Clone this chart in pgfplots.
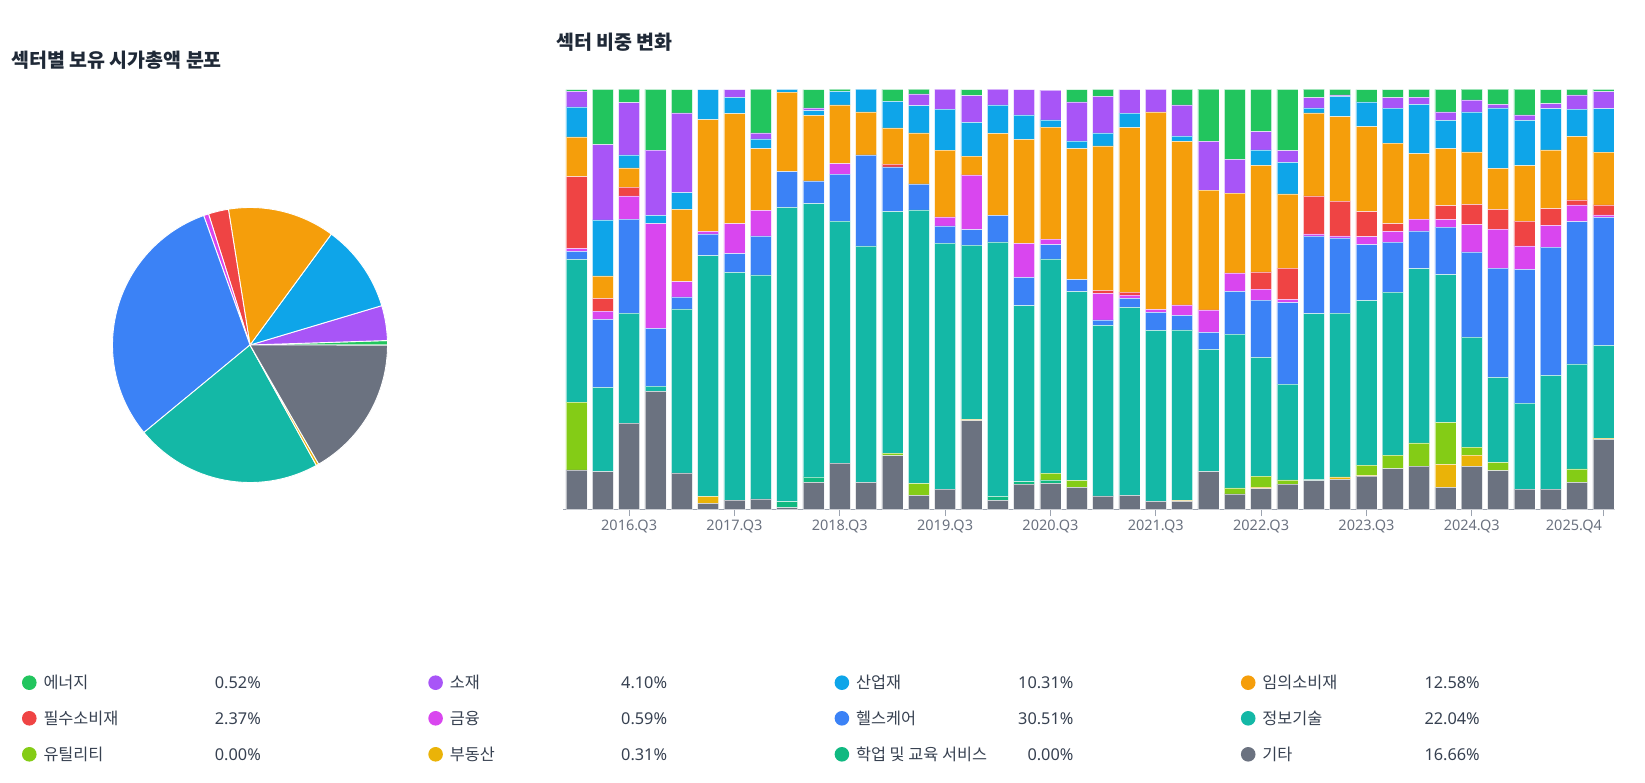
\documentclass[border=0pt]{standalone}
\usepackage{pgfplots}
\pgfplotsset{compat=1.18}
\usepackage{pgfplotstable}
\usepackage{fontspec}
\setmainfont{Noto Sans}
\newfontfamily\kr{Noto Sans CJK KR}

\definecolor{cEn}{HTML}{22C55E}
\definecolor{cMat}{HTML}{A855F7}
\definecolor{cInd}{HTML}{0EA5E9}
\definecolor{cDis}{HTML}{F59E0B}
\definecolor{cSta}{HTML}{EF4444}
\definecolor{cFin}{HTML}{D946EF}
\definecolor{cHc}{HTML}{3B82F6}
\definecolor{cIt}{HTML}{14B8A6}
\definecolor{cUtil}{HTML}{84CC16}
\definecolor{cRe}{HTML}{EAB308}
\definecolor{cEdu}{HTML}{10B981}
\definecolor{cEtc}{HTML}{6B7280}
\definecolor{cTitle}{HTML}{1F2937}
\definecolor{cText}{HTML}{374151}
\definecolor{cTick}{HTML}{6B7280}
\definecolor{cAxis}{HTML}{9CA3AF}

% sector weights per quarter (%), 2016.Q1 ... 2025.Q4
\pgfplotstableread{
i  etc   edu  re   util  it    hc    fin   sta   dis   ind   mat   en
0  9.4   0    0    16.1  34.0  1.9   0.7   17.1  9.5   7.1   3.7   0.4
1  9.0   0    0    0     20.0  16.2  2.0   3.0   5.4   13.3  17.9  13.2
2  20.5  0    0    0     26.2  22.4  5.5   2.1   4.6   3.1   12.4  3.3
3  28.1  0    0    0     1.2   13.8  24.9  0     0     2.0   15.5  14.5
4  8.7   0    0    0     39.0  2.9   3.6   0     17.2  4.0   19.0  5.5
5  1.4   0    1.7  0     57.3  5.2   0.6   0     26.6  7.1   0     0
6  2.2   0    0    0     54.2  4.5   7.1   0     26.2  3.9   1.8   0
7  2.5   0    0    0     53.3  9.3   6.1   0     14.7  2.3   1.4   10.5
8  0.4   1.4  0    0     70.1  8.5   0     0     18.9  0.7   0     0
9  6.4   1.3  0    0     65.1  5.4   0     0     15.6  1.1   0.7   4.3
10 11.0  0    0    0     57.6  11.2  2.5   0     14.0  3.2   0     0.6
11 6.4   0    0    0     56.3  21.7  0     0     10.2  5.5   0     0
12 12.8  0    0    0.6   57.5  10.6  0     0.7   8.6   6.3   0     2.9
13 3.3   0    0    2.9   65.1  6.2   0     0     12.1  6.5   2.8   1.2
14 4.8   0    0    0     58.6  4.1   2.1   0     15.9  9.8   4.8   0
15 21.1  0    0.3  0     41.5  3.7   13.0  0     4.5   8.0   6.4   1.4
16 2.1   1.0  0    0     60.6  6.3   0     0     19.5  6.8   3.8   0
17 6.0   0.6  0    0     41.9  6.7   8.1   0     24.8  5.8   6.0   0
18 6.2   0.8  0    1.6   51.0  3.4   1.3   0     26.7  1.7   7.1   0
19 5.2   0    0    1.7   44.9  2.9   0     0     31.2  1.8   9.3   2.9
20 3.2   0    0    0     40.6  1.3   6.3   0.7   34.4  3.1   8.7   1.7
21 3.3   0    0    0     44.8  2.1   0.8   0.7   39.2  3.4   5.6   0
22 1.9   0    0    0     40.7  4.3   0.7   0     47.0  0     5.4   0
23 1.9   0    0.2  0     40.6  3.5   2.5   0     38.9  1.3   7.4   3.7
24 9.0   0    0    0     29.1  4.0   5.4   0     28.5  0     11.6  12.5
25 3.7   0    0    1.4   36.6  10.2  4.4   0     19.0  0     8.0   16.7
26 4.9   0    0.4  2.6   28.3  13.6  2.6   4.1   25.4  3.7   4.3   10.1
27 6.0   0    0    1.0   22.8  19.4  0.8   7.4   17.7  7.5   2.8   14.6
28 6.8   0.3  0    0     39.5  18.5  0.5   9.0   19.8  1.2   2.4   2.1
29 7.1   0    0.6  0     39.0  17.9  0.5   8.3   20.1  4.8   0.4   1.3
30 7.9   0    0.2  2.4   39.2  13.3  1.9   6.0   20.2  5.9   0     2.9
31 9.7   0    0    3.2   38.8  11.9  2.6   1.8   19.2  8.3   2.5   1.9
32 10.3  0    0    5.5   41.5  9.0   2.8   0     15.6  11.7  1.7   1.9
33 5.2   0    5.5  10.0  35.2  11.3  1.8   3.3   13.6  6.7   2.0   5.4
34 10.2  0    2.7  1.9   26.2  20.3  6.5   4.8   12.5  9.5   2.9   2.6
35 9.2   0    0    2.0   20.2  26.0  9.3   4.7   9.8   14.4  0.8   3.7
36 4.8   0    0    0     20.5  31.8  5.6   5.9   13.2  10.8  1.3   6.2
37 4.8   0    0    0     27.1  30.5  5.2   4.0   14.0  9.8   1.2   3.3
38 6.4   0    0    3.2   25.0  33.9  4.0   1.2   15.1  6.5   3.4   1.3
39 16.66 0    0.31 0     22.04 30.51 0.59  2.37  12.58 10.31 4.10  0.52
}\bars

% pie: cumulative angles from the shares (%)
\def\R{137.5}
\pgfmathsetmacro\aA{0}
\pgfmathsetmacro\aB{\aA+3.6*0.52}
\pgfmathsetmacro\aC{\aB+3.6*4.10}
\pgfmathsetmacro\aD{\aC+3.6*10.31}
\pgfmathsetmacro\aE{\aD+3.6*12.58}
\pgfmathsetmacro\aF{\aE+3.6*2.37}
\pgfmathsetmacro\aG{\aF+3.6*0.59}
\pgfmathsetmacro\aH{\aG+3.6*30.51}
\pgfmathsetmacro\aI{\aH+3.6*22.04}
\pgfmathsetmacro\aJ{\aI+3.6*0.00}
\pgfmathsetmacro\aK{\aJ+3.6*0.31}
\pgfmathsetmacro\aL{\aK+3.6*0.00}
\pgfmathsetmacro\aM{\aL+3.6*16.66}

\newcommand\wedgepie[3]{%
  \fill[#3, draw=white, line width=0.9pt, line join=round] (0,0) -- ({\R*cos(#1)},{\R*sin(#1)}) arc[start angle=#1, end angle=#2, radius=\R pt] -- cycle;}

\newcommand\legitem[5]{% col, row y, color, name, value
  \fill[#3] ({29.3+406.3*#1},#2) circle[radius=7.3pt];
  \node[anchor=base west, inner sep=0pt, text=cText, font=\kr\fontsize{16.3}{19}\selectfont] at ({43.3+406.3*#1},{#2-5.9}) {#4};
  \node[anchor=base east, inner sep=0pt, text=cText, font=\fontsize{16.3}{19}\selectfont] at ({261+406.3*#1},{#2-5.9}) {#5};
}

\begin{document}
\begin{tikzpicture}[x=1pt,y=1pt]
\path[use as bounding box] (0,0) rectangle (1645,782);

% titles
\node[anchor=base west, inner sep=0pt, text=cTitle, font=\kr\bfseries\fontsize{19.5}{23}\selectfont] at (11,714) {섹터별 보유 시가총액 분포};
\node[anchor=base west, inner sep=0pt, text=cTitle, font=\kr\bfseries\fontsize{19.5}{23}\selectfont] at (556,732.5) {섹터 비중 변화};

% pie chart
\begin{axis}[at={(250pt,437pt)}, anchor=center, x=1pt, y=1pt,
  xmin=-140, xmax=140, ymin=-140, ymax=140, hide axis, clip=false]
\wedgepie{\aA}{\aB}{cEn}
\wedgepie{\aB}{\aC}{cMat}
\wedgepie{\aC}{\aD}{cInd}
\wedgepie{\aD}{\aE}{cDis}
\wedgepie{\aE}{\aF}{cSta}
\wedgepie{\aF}{\aG}{cFin}
\wedgepie{\aG}{\aH}{cHc}
\wedgepie{\aH}{\aI}{cIt}
\wedgepie{\aJ}{\aK}{cRe}
\wedgepie{\aL}{\aM}{cEtc}
\end{axis}

% stacked bar chart
\begin{axis}[at={(563.3pt,272.7pt)}, anchor=south west, scale only axis,
  width=1051.7pt, height=420pt,
  xmin=-0.5, xmax=39.44, ymin=0, ymax=100,
  ybar stacked, bar width=0.8,
  axis x line*=bottom, axis y line=none,
  x axis line style={draw=cAxis, line width=1.2pt},
  xtick={2,6,10,14,18,22,26,30,34},
  xticklabels={2016.Q3,2017.Q3,2018.Q3,2019.Q3,2020.Q3,2021.Q3,2022.Q3,2023.Q3,2024.Q3},
  extra x ticks={39},
  extra x tick labels={2025.Q4},
  extra x tick style={xticklabel style={anchor=north east, xshift=2pt}},
  tick align=outside, major tick length=7pt,
  tick style={draw=cAxis, line width=1pt},
  xticklabel style={text=cTick, font=\fontsize{14.5}{17}\selectfont},
  every axis plot/.append style={draw=white, draw opacity=0.55, line width=0.5pt},
]
\addplot[fill=cEtc]  table[x=i,y=etc]  {\bars};
\addplot[fill=cEdu]  table[x=i,y=edu]  {\bars};
\addplot[fill=cRe]   table[x=i,y=re]   {\bars};
\addplot[fill=cUtil] table[x=i,y=util] {\bars};
\addplot[fill=cIt]   table[x=i,y=it]   {\bars};
\addplot[fill=cHc]   table[x=i,y=hc]   {\bars};
\addplot[fill=cFin]  table[x=i,y=fin]  {\bars};
\addplot[fill=cSta]  table[x=i,y=sta]  {\bars};
\addplot[fill=cDis]  table[x=i,y=dis]  {\bars};
\addplot[fill=cInd]  table[x=i,y=ind]  {\bars};
\addplot[fill=cMat]  table[x=i,y=mat]  {\bars};
\addplot[fill=cEn]   table[x=i,y=en]   {\bars};
\end{axis}

% legend
\legitem{0}{99.3}{cEn}{에너지}{0.52\%}
\legitem{1}{99.3}{cMat}{소재}{4.10\%}
\legitem{2}{99.3}{cInd}{산업재}{10.31\%}
\legitem{3}{99.3}{cDis}{임의소비재}{12.58\%}
\legitem{0}{63.7}{cSta}{필수소비재}{2.37\%}
\legitem{1}{63.7}{cFin}{금융}{0.59\%}
\legitem{2}{63.7}{cHc}{헬스케어}{30.51\%}
\legitem{3}{63.7}{cIt}{정보기술}{22.04\%}
\legitem{0}{27.7}{cUtil}{유틸리티}{0.00\%}
\legitem{1}{27.7}{cRe}{부동산}{0.31\%}
\legitem{2}{27.7}{cEdu}{학업 및 교육 서비스}{0.00\%}
\legitem{3}{27.7}{cEtc}{기타}{16.66\%}
\end{tikzpicture}
\end{document}
